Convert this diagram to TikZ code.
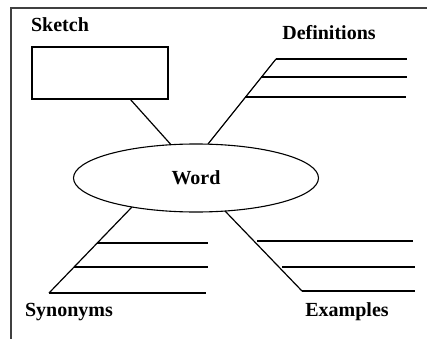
\documentclass[tikz,border=0pt]{standalone}
\usepackage{fontspec}
\setmainfont{Liberation Serif}
\usetikzlibrary{shapes.geometric}
\tikzset{
  label/.style={font=\fontsize{20}{23}\selectfont\bfseries, inner sep=0pt},
  rule/.style={line width=1.2pt, black}
}

\begin{document}
\begin{tikzpicture}[x=1pt, y=-1pt]
  \useasboundingbox (0,0) rectangle (427,339);
  % frame
  \draw[line width=1.5pt, black!75] (427,8) -- (11,8) -- (11,339);

  % centre
  \node[draw, ellipse, line width=1.1pt, minimum width=245pt, minimum height=68pt] (word) at (196,178) {};
  \node[label] (wordtext) at (196,178) {Word};

  % sketch
  \node[label] (sketchlabel) at (60,25) {Sketch};
  \node[draw, rectangle, line width=1.1pt, minimum width=136pt, minimum height=52pt] (sketch) at (100,73) {};
  \coordinate (sk) at (130,99);
  \coordinate (w1) at (171,144.7);
  \draw[rule] (sk) -- (w1);

  % definitions
  \node[label] (deflabel) at (329,33) {Definitions};
  \coordinate (w2) at (208,144);
  \coordinate (def1) at (276,59);
  \coordinate (def2) at (261,77);
  \coordinate (def3) at (245,97);
  \coordinate (defend1) at (407,59);
  \coordinate (defend2) at (407,77);
  \coordinate (defend3) at (406,97);
  \draw[rule] (w2) -- (def1);
  \draw[rule] (def1) -- (defend1);
  \draw[rule] (def2) -- (defend2);
  \draw[rule] (def3) -- (defend3);

  % synonyms
  \node[label] (synlabel) at (69,312) {Synonyms};
  \coordinate (w3) at (132,207);
  \coordinate (syn1) at (97,243);
  \coordinate (syn2) at (74,267);
  \coordinate (syn3) at (49,293);
  \coordinate (synend1) at (208,243);
  \coordinate (synend2) at (208,267);
  \coordinate (synend3) at (206,293);
  \draw[rule] (w3) -- (syn3);
  \draw[rule] (syn1) -- (synend1);
  \draw[rule] (syn2) -- (synend2);
  \draw[rule] (syn3) -- (synend3);

  % examples
  \node[label] (exlabel) at (347,312) {Examples};
  \coordinate (w4) at (225,211);
  \coordinate (ex1) at (257,241);
  \coordinate (ex2) at (282,267);
  \coordinate (ex3) at (302,291);
  \coordinate (exend1) at (413,241);
  \coordinate (exend2) at (415,267);
  \coordinate (exend3) at (415,291);
  \draw[rule] (w4) -- (ex3);
  \draw[rule] (ex1) -- (exend1);
  \draw[rule] (ex2) -- (exend2);
  \draw[rule] (ex3) -- (exend3);
\end{tikzpicture}
\end{document}
